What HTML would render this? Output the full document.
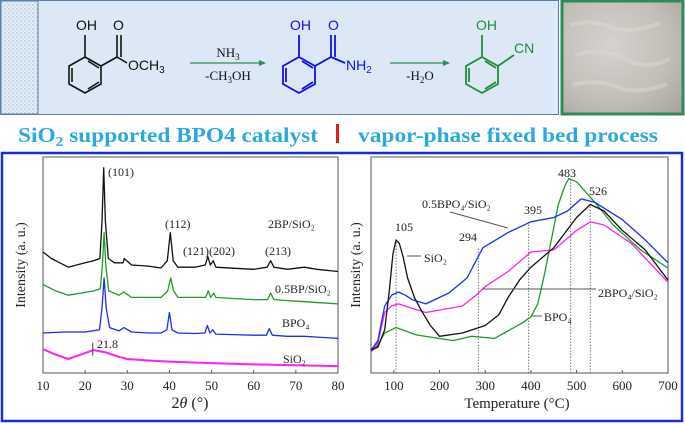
<!DOCTYPE html>
<html><head><meta charset="utf-8"><style>
html,body{margin:0;padding:0;background:#fff;width:685px;height:424px;overflow:hidden}
svg{display:block}
svg text{font-family:"Liberation Serif",serif}
</style></head><body>
<svg id="root" width="685" height="424" viewBox="0 0 685 424" xmlns="http://www.w3.org/2000/svg">
<defs>
<pattern id="dots" width="4" height="4" patternUnits="userSpaceOnUse"><rect width="4" height="4" fill="#e4eef8"/><circle cx="1" cy="1" r="0.7" fill="#9bb5d0"/><circle cx="3" cy="3" r="0.7" fill="#b5c9de"/></pattern>
<radialGradient id="photo" cx="0.4" cy="0.4" r="0.8"><stop offset="0" stop-color="#d6d3cf"/><stop offset="0.6" stop-color="#c2beb8"/><stop offset="1" stop-color="#aaa69f"/></radialGradient>
</defs>
<g>
<rect x="0.5" y="0.5" width="558" height="114" fill="#dce8f5" stroke="#5a7fa8"/>
<rect x="1" y="1" width="37" height="113" fill="url(#dots)" stroke="#5a7fa8"/>
<g stroke="#111" stroke-width="1.6" fill="none">
<polygon points="85,57 101,66 101,84 85,93 69,84 69,66"/>
<line x1="72" y1="68" x2="72" y2="82"/><line x1="88" y1="89" x2="99" y2="82"/><line x1="88" y1="61" x2="99" y2="68"/>
<line x1="85" y1="57" x2="85" y2="35"/>
<line x1="101" y1="66" x2="117" y2="57"/><line x1="117" y1="57" x2="127" y2="63"/>
<line x1="117" y1="57" x2="117" y2="35"/><line x1="121" y1="57" x2="121" y2="35"/>
</g>
<g font-size="14" fill="#111">
<text x="76" y="30" style="font-family:'Liberation Sans',sans-serif">OH</text>
<text x="113" y="30" style="font-family:'Liberation Sans',sans-serif">O</text>
<text x="128" y="70" style="font-family:'Liberation Sans',sans-serif">OCH<tspan font-size="10" dy="3">3</tspan></text>
</g>
<g>
<line x1="190" y1="63" x2="262" y2="63" stroke="#2e8b57" stroke-width="1.2"/><polygon points="266,63 259,60 259,66" fill="#2e8b57"/>
<text x="228" y="57" text-anchor="middle" font-size="13" fill="#111">NH<tspan font-size="9" dy="3">3</tspan></text>
<text x="228" y="80" text-anchor="middle" font-size="13" fill="#111">-CH<tspan font-size="9" dy="3">3</tspan><tspan dy="-3">OH</tspan></text>
</g>
<g stroke="#1010ee" stroke-width="1.8" fill="none">
<polygon points="299,57 315,66 315,84 299,93 283,84 283,66"/>
<line x1="286" y1="68" x2="286" y2="82"/><line x1="302" y1="89" x2="313" y2="82"/><line x1="302" y1="61" x2="313" y2="68"/>
<line x1="299" y1="57" x2="299" y2="35"/>
<line x1="315" y1="66" x2="331" y2="57"/><line x1="331" y1="57" x2="345" y2="63"/>
<line x1="331" y1="57" x2="331" y2="35"/><line x1="335" y1="57" x2="335" y2="35"/>
</g>
<g font-size="14" fill="#1010ee">
<text x="290" y="30" style="font-family:'Liberation Sans',sans-serif">OH</text>
<text x="328" y="30" style="font-family:'Liberation Sans',sans-serif">O</text>
<text x="346" y="70" style="font-family:'Liberation Sans',sans-serif">NH<tspan font-size="10" dy="3">2</tspan></text>
</g>
<g>
<line x1="390" y1="63" x2="446" y2="63" stroke="#2e8b57" stroke-width="1.2"/><polygon points="450,63 443,60 443,66" fill="#2e8b57"/>
<text x="420" y="80" text-anchor="middle" font-size="13" fill="#111">-H<tspan font-size="9" dy="3">2</tspan><tspan dy="-3">O</tspan></text>
</g>
<g stroke="#228b3a" stroke-width="1.8" fill="none">
<polygon points="482,57 498,66 498,84 482,93 466,84 466,66"/>
<line x1="469" y1="68" x2="469" y2="82"/><line x1="485" y1="89" x2="496" y2="82"/><line x1="485" y1="61" x2="496" y2="68"/>
<line x1="482" y1="57" x2="482" y2="35"/>
<line x1="498" y1="66" x2="514" y2="55"/>
</g>
<g font-size="14" fill="#228b3a">
<text x="476" y="30" style="font-family:'Liberation Sans',sans-serif">OH</text>
<text x="514" y="53" style="font-family:'Liberation Sans',sans-serif">CN</text>
</g>
</g>
<g>
<rect x="562" y="1" width="121" height="113" fill="url(#photo)" stroke="#2e8b57" stroke-width="3"/>
<path d="M570,25 q20,-6 40,2 t50,-4 M575,55 q30,-8 50,4 t45,0 M572,85 q25,-6 45,2 t50,-3" stroke="#dcd9d4" stroke-width="4" fill="none" opacity="0.5"/>
</g>
<text x="18" y="142" font-size="21" font-weight="bold" fill="#29a9e0" style="font-family:'Liberation Serif',serif" textLength="300" lengthAdjust="spacingAndGlyphs">SiO<tspan font-size="14" dy="4">2</tspan><tspan dy="-4"> supported BPO4 catalyst</tspan></text>
<rect x="336" y="124" width="3" height="19" fill="#e21b1b"/>
<text x="358" y="142" font-size="21" font-weight="bold" fill="#29a9e0" style="font-family:'Liberation Serif',serif" textLength="300" lengthAdjust="spacingAndGlyphs">vapor-phase fixed bed process</text>
<rect x="2" y="153" width="680" height="268" fill="#fff" stroke="#1a2fd0" stroke-width="2.5"/>
<g id="xrd"></g>
<g id="tpd"></g>
</svg>
<script>
// ---- XRD data (2θ, intensity a.u. 0-100) ----
const xrdTicks = [10,20,30,40,50,60,70,80];
const xrd2BP_x = [10,12,14,16,18,20,22,23.5,24.0,24.4,24.8,25.5,27,29,29.3,31,35,38,39.5,40.2,40.9,42,46,48.5,49.1,49.7,50.4,51,55,60,63.2,64,64.8,68,72,75,80];
const xrd2BP_y = [56,53,51,49,50,51,52,53,70,95,70,53,51,51,53,50,49.5,48.6,52,65,52,49,49,50,54,50,52,49,48.5,48,49,52,49,48,49,48,47];
const xrd05_x = [10,13,16,19,22,23.6,24.1,24.5,24.9,25.6,28,29.2,31,35,38,39.6,40.3,41,42,46,48.6,49.2,49.8,50.5,51,55,60,63.3,64,64.8,68,72,76,80];
const xrd05_y = [41,38,36,37,38,39,50,65,50,38,36,37.5,35,35,35,38,44,38,35,35,35,38,35,37,35,34.5,34,34,37,34,33.5,33,32.5,32];
const xrdBPO_x = [10,15,20,23.4,24.0,24.5,25.0,25.8,28,29.2,31,35,38,39.4,40.0,40.6,42,46,48.4,49,49.6,50.3,51,55,60,63,63.7,64.4,68,72,76,80];
const xrdBPO_y = [18.5,19,19,20,30,44,30,21,19.5,21,19,18.5,18.5,20,28,20,18.5,18.3,18.5,22,18.5,20,18,17.8,17.5,17.5,20.5,17.5,17,17,16.5,16];
const xrdSiO_x = [10,13,16,19,22,25,28,30,35,40,50,60,70,80];
const xrdSiO_y = [11,8.5,6.5,8.5,10.6,9.5,7.5,6.5,5.8,5.3,4.6,4,3.6,3.2];
// ---- TPD data (T °C, intensity a.u. 0-100) ----
const tpdTicks = [100,200,300,400,500,600,700];
const tpdSiO_x = [50,65,80,90,98,105,112,120,130,145,160,180,200,250,300,330,350,375,400,450,500,530,560,600,650,700];
const tpdSiO_y = [10.6,12,20,38,55,61.6,60,54,44,35,29,22,17,18.5,22,27,35,43,49,58,72,78,75,66,57,43];
const tpdBlue_x = [50,65,80,95,110,125,140,170,220,260,280,295,350,400,450,480,510,540,600,650,700];
const tpdBlue_y = [10.6,15,31,36,37.5,36,34,32,37,44,52,58,65,70,72,75,80.6,79,71,61.6,51];
const tpdPink_x = [50,65,80,95,110,140,170,250,280,300,350,400,450,500,530,560,620,700];
const tpdPink_y = [9.7,14,28,31,32,30,28,31,36,40,47,56,57,66,70,68.5,60,42];
const tpdGreen_x = [50,65,80,105,150,230,270,320,380,400,415,430,445,460,475,483,500,540,580,640,700];
const tpdGreen_y = [9.7,13,18.5,21,17.6,15,17,16,23,26,32,46,62,78,87,90,88.5,79,68.5,57,48.6];
const tpdMarks = [105,285,395,487,530];
const tpdMarkTop = [61.6,58,70,90,78];

const NS="http://www.w3.org/2000/svg";
function mk(parent,tag,attrs,text){const e=document.createElementNS(NS,tag);for(const k in attrs)e.setAttribute(k,attrs[k]);if(text!==undefined)e.textContent=text;parent.appendChild(e);return e;}
const yTop=157,yBot=373;
function ys(v){return yBot-(v/100)*(yBot-yTop);}

function axes(g,x0,x1,ticks,sx,name){
  const fr=mk(g,'rect',{x:x0,y:yTop,width:x1-x0,height:yBot-yTop,fill:'none',stroke:'#555','stroke-width':1});
  
  
  ticks.forEach(t=>{
    const x=sx(t);
    const tl=mk(g,'line',{x1:x,x2:x,y1:yBot,y2:yBot-3,stroke:'#555'});
    
    
    const lab=mk(g,'text',{x:x,y:390,'text-anchor':'middle','font-size':13,fill:'#222'},String(t));
    
    
  });
}
function line(g,xs,vs,sx,color,name,w){
  const d=xs.map((x,i)=>(i?'L':'M')+sx(x).toFixed(1)+','+ys(vs[i]).toFixed(1)).join(' ');
  const p=mk(g,'path',{d:d,fill:'none',stroke:color,'stroke-width':w||1.3,'stroke-linejoin':'round'});
  
  
}
function label(g,x,y,txt,name,size,anchor){
  const t=mk(g,'text',{x:x,y:y,'font-size':size||12,fill:'#222','text-anchor':anchor||'start'},txt);
  
  
  return t;
}
const gx=document.getElementById('xrd');
const sxX=v=>43+(v-10)*(295/70);
axes(gx,43,338,xrdTicks,sxX,'xrd');
line(gx,xrdSiO_x,xrdSiO_y,sxX,'#ff22ee','xrd-sio2-line',2);
line(gx,xrdBPO_x,xrdBPO_y,sxX,'#1a2ff0','xrd-bpo4-line');
line(gx,xrd05_x,xrd05_y,sxX,'#1f9a2a','xrd-05bp-line');
line(gx,xrd2BP_x,xrd2BP_y,sxX,'#111','xrd-2bp-line');
label(gx,108,176,'(101)','peak-101');
label(gx,165,228,'(112)','peak-112');
label(gx,183,255,'(121)(202)','peak-121-202');
label(gx,265,255,'(213)','peak-213');
label(gx,268,228,'2BP/SiO\u2082','xrd-legend-2bp');
label(gx,275,293,'0.5BP/SiO\u2082','xrd-legend-05bp');
label(gx,282,327,'BPO\u2084','xrd-legend-bpo4');
label(gx,283,363,'SiO\u2082','xrd-legend-sio2');
label(gx,97,348,'21.8','peak-21-8');
const m=mk(gx,'line',{x1:sxX(21.8),x2:sxX(21.8),y1:ys(8),y2:ys(14),stroke:'#444'});


const yl=label(gx,0,0,'Intensity (a. u.)','xrd-y-axis-title',14,'middle');
yl.setAttribute('transform','translate(25,265) rotate(-90)');
const xl=label(gx,190,408,'','xrd-x-axis-title',16,'middle');
xl.innerHTML='2<tspan font-style="italic">θ</tspan> (°)';
const gt=document.getElementById('tpd');
const sxT=v=>371+(v-50)*(297/650);
axes(gt,371,668,tpdTicks,sxT,'tpd');
tpdMarks.forEach((t,i)=>{
  const l=mk(gt,'line',{x1:sxT(t),x2:sxT(t),y1:yBot,y2:ys(tpdMarkTop[i]),stroke:'#777','stroke-dasharray':'1.5,1.5'});
  
  
});
line(gt,tpdGreen_x,tpdGreen_y,sxT,'#1f9a2a','tpd-bpo4-line');
line(gt,tpdPink_x,tpdPink_y,sxT,'#ff22ee','tpd-2bpo4-line');
line(gt,tpdBlue_x,tpdBlue_y,sxT,'#1a2ff0','tpd-05bpo4-line');
line(gt,tpdSiO_x,tpdSiO_y,sxT,'#111','tpd-sio2-line');
label(gt,404,231,'105','tpd-peak-105',12,'middle');
label(gt,468,241,'294','tpd-peak-294',12,'middle');
label(gt,533,214,'395','tpd-peak-395',12,'middle');
label(gt,567,177,'483','tpd-peak-483',12,'middle');
label(gt,598,195,'526','tpd-peak-526',12,'middle');
label(gt,422,208,'0.5BPO\u2084/SiO\u2082','tpd-legend-05bpo4');
label(gt,424,262,'SiO\u2082','tpd-legend-sio2');
label(gt,598,297,'2BPO\u2084/SiO\u2082','tpd-legend-2bpo4');
label(gt,544,321,'BPO\u2084','tpd-legend-bpo4');
[[450,212,508,228],[407,256,421,256],[482,289,596,289],[532,316,542,316]].forEach(c=>{
  const l=mk(gt,'line',{x1:c[0],y1:c[1],x2:c[2],y2:c[3],stroke:'#555'});
  
  
});
const yl2=label(gt,0,0,'Intensity (a. u.)','tpd-y-axis-title',14,'middle');
yl2.setAttribute('transform','translate(360,265) rotate(-90)');
label(gt,517,408,'Temperature (°C)','tpd-x-axis-title',15,'middle');
</script>
</body></html>
